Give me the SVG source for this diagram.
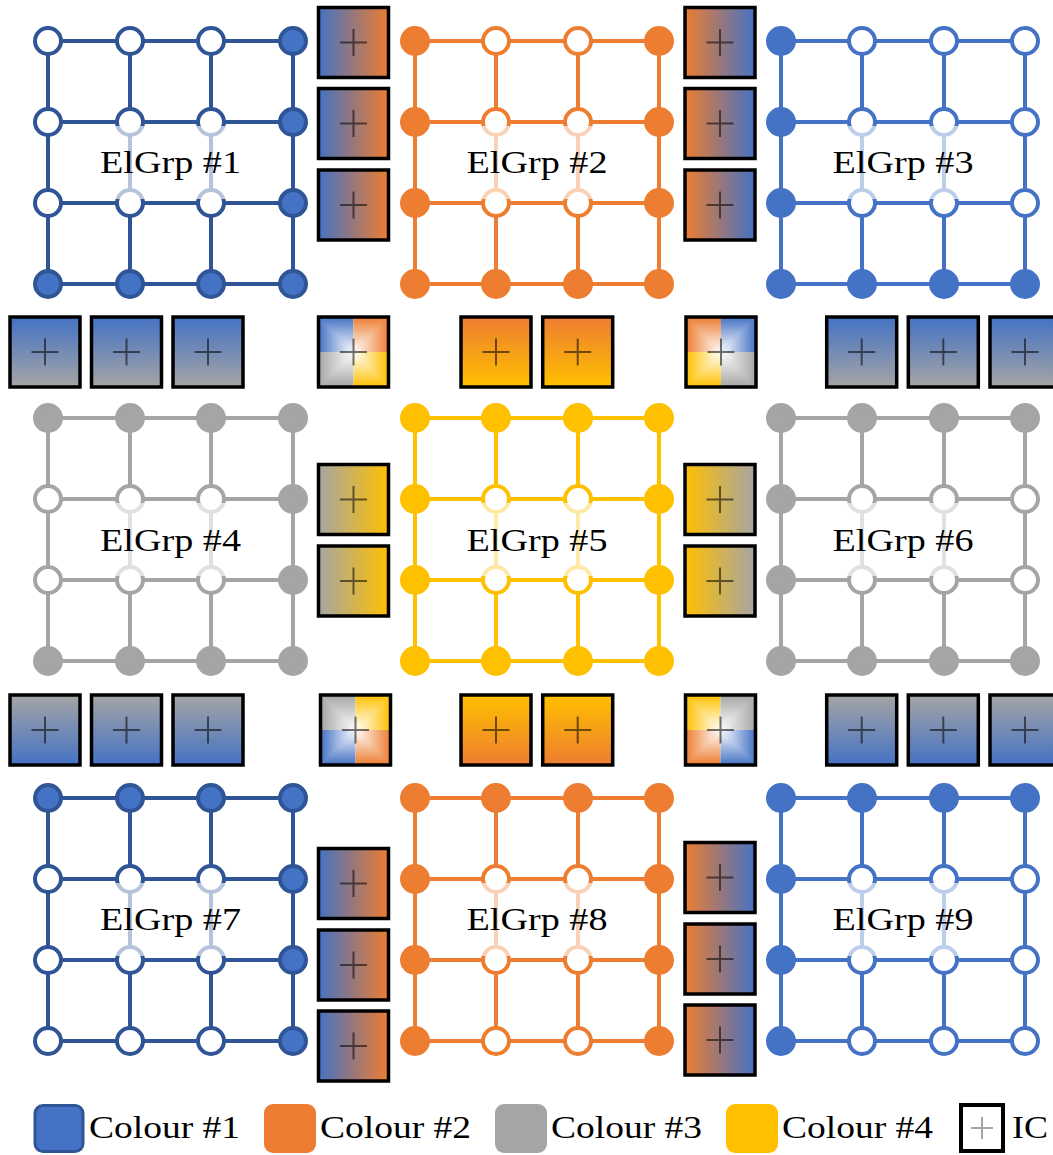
<svg xmlns="http://www.w3.org/2000/svg" width="1053" height="1155" viewBox="0 0 1053 1155">
<defs>
<style>
.ic{stroke:#000;stroke-width:3.5}
.x{stroke:#000;stroke-opacity:.55;stroke-width:2;fill:none}
.lbl{font-family:"Liberation Serif","DejaVu Serif",serif;font-size:32px;text-anchor:middle;fill:#000}
.leg{font-family:"Liberation Serif","DejaVu Serif",serif;font-size:32px;fill:#000}
.fade{fill:#fff;fill-opacity:.65}
.ld{stroke:#2F5597;stroke-width:4;fill:none}
.lb{stroke:#4472C4;stroke-width:4;fill:none}
.lo{stroke:#ED7D31;stroke-width:4;fill:none}
.lg{stroke:#A5A5A5;stroke-width:4;fill:none}
.ly{stroke:#FFC000;stroke-width:4;fill:none}
.wd{fill:#fff;stroke:#2F5597;stroke-width:4}
.fd{fill:#4472C4;stroke:#2F5597;stroke-width:4}
.wb{fill:#fff;stroke:#4472C4;stroke-width:4}
.fb{fill:#4472C4;stroke:#4472C4;stroke-width:4}
.wo{fill:#fff;stroke:#ED7D31;stroke-width:4}
.fo{fill:#ED7D31;stroke:#ED7D31;stroke-width:4}
.wg{fill:#fff;stroke:#A5A5A5;stroke-width:4}
.fg{fill:#A5A5A5;stroke:#A5A5A5;stroke-width:4}
.wy{fill:#fff;stroke:#FFC000;stroke-width:4}
.fy{fill:#FFC000;stroke:#FFC000;stroke-width:4}
</style>
<linearGradient id="lrBO" x1="0" y1="0" x2="1" y2="0"><stop offset="0" stop-color="#4472C4"/><stop offset="1" stop-color="#ED7D31"/></linearGradient>
<linearGradient id="lrOB" x1="0" y1="0" x2="1" y2="0"><stop offset="0" stop-color="#ED7D31"/><stop offset="1" stop-color="#4472C4"/></linearGradient>
<linearGradient id="lrGY" x1="0" y1="0" x2="1" y2="0"><stop offset="0" stop-color="#A5A5A5"/><stop offset="1" stop-color="#FFC000"/></linearGradient>
<linearGradient id="lrYG" x1="0" y1="0" x2="1" y2="0"><stop offset="0" stop-color="#FFC000"/><stop offset="1" stop-color="#A5A5A5"/></linearGradient>
<linearGradient id="tbBG" x1="0" y1="0" x2="0" y2="1"><stop offset="0" stop-color="#4472C4"/><stop offset="1" stop-color="#A5A5A5"/></linearGradient>
<linearGradient id="tbGB" x1="0" y1="0" x2="0" y2="1"><stop offset="0" stop-color="#A5A5A5"/><stop offset="1" stop-color="#4472C4"/></linearGradient>
<linearGradient id="tbOY" x1="0" y1="0" x2="0" y2="1"><stop offset="0" stop-color="#ED7D31"/><stop offset="1" stop-color="#FFC000"/></linearGradient>
<linearGradient id="tbYO" x1="0" y1="0" x2="0" y2="1"><stop offset="0" stop-color="#FFC000"/><stop offset="1" stop-color="#ED7D31"/></linearGradient>
<linearGradient id="wT" x1="0" y1="0" x2="0" y2="1"><stop offset="0" stop-color="#fff" stop-opacity="0"/><stop offset="1" stop-color="#fff" stop-opacity="1"/></linearGradient>
<linearGradient id="wB" x1="0" y1="1" x2="0" y2="0"><stop offset="0" stop-color="#fff" stop-opacity="0"/><stop offset="1" stop-color="#fff" stop-opacity="1"/></linearGradient>
<linearGradient id="wL" x1="0" y1="0" x2="1" y2="0"><stop offset="0" stop-color="#fff" stop-opacity="0"/><stop offset="1" stop-color="#fff" stop-opacity="1"/></linearGradient>
<linearGradient id="wR" x1="1" y1="0" x2="0" y2="0"><stop offset="0" stop-color="#fff" stop-opacity="0"/><stop offset="1" stop-color="#fff" stop-opacity="1"/></linearGradient>
</defs>
<rect width="1053" height="1155" fill="#fff"/>

<g id="connectors">
<path class="ld" d="M48 41H293M48 122H293M48 203H293M48 284H293M48 41V284M130 41V284M211 41V284M293 41V284"/>
<path class="lo" d="M415 41H659M415 122H659M415 203H659M415 284H659M415 41V284M496 41V284M578 41V284M659 41V284"/>
<path class="lb" d="M781 41H1025M781 122H1025M781 203H1025M781 284H1025M781 41V284M862 41V284M944 41V284M1025 41V284"/>
<path class="lg" d="M48 418H293M48 499H293M48 580H293M48 661H293M48 418V661M130 418V661M211 418V661M293 418V661"/>
<path class="ly" d="M415 418H659M415 499H659M415 580H659M415 661H659M415 418V661M496 418V661M578 418V661M659 418V661"/>
<path class="lg" d="M781 418H1025M781 499H1025M781 580H1025M781 661H1025M781 418V661M862 418V661M944 418V661M1025 418V661"/>
<path class="ld" d="M48 798H293M48 879H293M48 960H293M48 1041H293M48 798V1041M130 798V1041M211 798V1041M293 798V1041"/>
<path class="lo" d="M415 798H659M415 879H659M415 960H659M415 1041H659M415 798V1041M496 798V1041M578 798V1041M659 798V1041"/>
<path class="lb" d="M781 798H1025M781 879H1025M781 960H1025M781 1041H1025M781 798V1041M862 798V1041M944 798V1041M1025 798V1041"/>
</g>

<g id="elgrp1">
<circle class="wd" cx="48" cy="41" r="13"/><circle class="wd" cx="130" cy="41" r="13"/><circle class="wd" cx="211" cy="41" r="13"/><circle class="fd" cx="293" cy="41" r="13"/>
<circle class="wd" cx="48" cy="122" r="13"/><circle class="wd" cx="130" cy="122" r="13"/><circle class="wd" cx="211" cy="122" r="13"/><circle class="fd" cx="293" cy="122" r="13"/>
<circle class="wd" cx="48" cy="203" r="13"/><circle class="wd" cx="130" cy="203" r="13"/><circle class="wd" cx="211" cy="203" r="13"/><circle class="fd" cx="293" cy="203" r="13"/>
<circle class="fd" cx="48" cy="284" r="13"/><circle class="fd" cx="130" cy="284" r="13"/><circle class="fd" cx="211" cy="284" r="13"/><circle class="fd" cx="293" cy="284" r="13"/>
<rect class="fade" x="99.5" y="126" width="142" height="73"/>
<text class="lbl" x="170.5" y="172.5" textLength="141" lengthAdjust="spacingAndGlyphs">ElGrp #1</text>
</g>

<g id="elgrp2">
<circle class="fo" cx="415" cy="41" r="13"/><circle class="wo" cx="496" cy="41" r="13"/><circle class="wo" cx="578" cy="41" r="13"/><circle class="fo" cx="659" cy="41" r="13"/>
<circle class="fo" cx="415" cy="122" r="13"/><circle class="wo" cx="496" cy="122" r="13"/><circle class="wo" cx="578" cy="122" r="13"/><circle class="fo" cx="659" cy="122" r="13"/>
<circle class="fo" cx="415" cy="203" r="13"/><circle class="wo" cx="496" cy="203" r="13"/><circle class="wo" cx="578" cy="203" r="13"/><circle class="fo" cx="659" cy="203" r="13"/>
<circle class="fo" cx="415" cy="284" r="13"/><circle class="fo" cx="496" cy="284" r="13"/><circle class="fo" cx="578" cy="284" r="13"/><circle class="fo" cx="659" cy="284" r="13"/>
<rect class="fade" x="466" y="126" width="142" height="73"/>
<text class="lbl" x="537" y="172.5" textLength="141" lengthAdjust="spacingAndGlyphs">ElGrp #2</text>
</g>

<g id="elgrp3">
<circle class="fb" cx="781" cy="41" r="13"/><circle class="wb" cx="862" cy="41" r="13"/><circle class="wb" cx="944" cy="41" r="13"/><circle class="wb" cx="1025" cy="41" r="13"/>
<circle class="fb" cx="781" cy="122" r="13"/><circle class="wb" cx="862" cy="122" r="13"/><circle class="wb" cx="944" cy="122" r="13"/><circle class="wb" cx="1025" cy="122" r="13"/>
<circle class="fb" cx="781" cy="203" r="13"/><circle class="wb" cx="862" cy="203" r="13"/><circle class="wb" cx="944" cy="203" r="13"/><circle class="wb" cx="1025" cy="203" r="13"/>
<circle class="fb" cx="781" cy="284" r="13"/><circle class="fb" cx="862" cy="284" r="13"/><circle class="fb" cx="944" cy="284" r="13"/><circle class="fb" cx="1025" cy="284" r="13"/>
<rect class="fade" x="832" y="126" width="142" height="73"/>
<text class="lbl" x="903" y="172.5" textLength="141" lengthAdjust="spacingAndGlyphs">ElGrp #3</text>
</g>

<g id="elgrp4">
<circle class="fg" cx="48" cy="418" r="13"/><circle class="fg" cx="130" cy="418" r="13"/><circle class="fg" cx="211" cy="418" r="13"/><circle class="fg" cx="293" cy="418" r="13"/>
<circle class="wg" cx="48" cy="499" r="13"/><circle class="wg" cx="130" cy="499" r="13"/><circle class="wg" cx="211" cy="499" r="13"/><circle class="fg" cx="293" cy="499" r="13"/>
<circle class="wg" cx="48" cy="580" r="13"/><circle class="wg" cx="130" cy="580" r="13"/><circle class="wg" cx="211" cy="580" r="13"/><circle class="fg" cx="293" cy="580" r="13"/>
<circle class="fg" cx="48" cy="661" r="13"/><circle class="fg" cx="130" cy="661" r="13"/><circle class="fg" cx="211" cy="661" r="13"/><circle class="fg" cx="293" cy="661" r="13"/>
<rect class="fade" x="99.5" y="503" width="142" height="73"/>
<text class="lbl" x="170.5" y="550.5" textLength="141" lengthAdjust="spacingAndGlyphs">ElGrp #4</text>
</g>

<g id="elgrp5">
<circle class="fy" cx="415" cy="418" r="13"/><circle class="fy" cx="496" cy="418" r="13"/><circle class="fy" cx="578" cy="418" r="13"/><circle class="fy" cx="659" cy="418" r="13"/>
<circle class="fy" cx="415" cy="499" r="13"/><circle class="wy" cx="496" cy="499" r="13"/><circle class="wy" cx="578" cy="499" r="13"/><circle class="fy" cx="659" cy="499" r="13"/>
<circle class="fy" cx="415" cy="580" r="13"/><circle class="wy" cx="496" cy="580" r="13"/><circle class="wy" cx="578" cy="580" r="13"/><circle class="fy" cx="659" cy="580" r="13"/>
<circle class="fy" cx="415" cy="661" r="13"/><circle class="fy" cx="496" cy="661" r="13"/><circle class="fy" cx="578" cy="661" r="13"/><circle class="fy" cx="659" cy="661" r="13"/>
<rect class="fade" x="466" y="503" width="142" height="73"/>
<text class="lbl" x="537" y="550.5" textLength="141" lengthAdjust="spacingAndGlyphs">ElGrp #5</text>
</g>

<g id="elgrp6">
<circle class="fg" cx="781" cy="418" r="13"/><circle class="fg" cx="862" cy="418" r="13"/><circle class="fg" cx="944" cy="418" r="13"/><circle class="fg" cx="1025" cy="418" r="13"/>
<circle class="fg" cx="781" cy="499" r="13"/><circle class="wg" cx="862" cy="499" r="13"/><circle class="wg" cx="944" cy="499" r="13"/><circle class="wg" cx="1025" cy="499" r="13"/>
<circle class="fg" cx="781" cy="580" r="13"/><circle class="wg" cx="862" cy="580" r="13"/><circle class="wg" cx="944" cy="580" r="13"/><circle class="wg" cx="1025" cy="580" r="13"/>
<circle class="fg" cx="781" cy="661" r="13"/><circle class="fg" cx="862" cy="661" r="13"/><circle class="fg" cx="944" cy="661" r="13"/><circle class="fg" cx="1025" cy="661" r="13"/>
<rect class="fade" x="832" y="503" width="142" height="73"/>
<text class="lbl" x="903" y="550.5" textLength="141" lengthAdjust="spacingAndGlyphs">ElGrp #6</text>
</g>

<g id="elgrp7">
<circle class="fd" cx="48" cy="798" r="13"/><circle class="fd" cx="130" cy="798" r="13"/><circle class="fd" cx="211" cy="798" r="13"/><circle class="fd" cx="293" cy="798" r="13"/>
<circle class="wd" cx="48" cy="879" r="13"/><circle class="wd" cx="130" cy="879" r="13"/><circle class="wd" cx="211" cy="879" r="13"/><circle class="fd" cx="293" cy="879" r="13"/>
<circle class="wd" cx="48" cy="960" r="13"/><circle class="wd" cx="130" cy="960" r="13"/><circle class="wd" cx="211" cy="960" r="13"/><circle class="fd" cx="293" cy="960" r="13"/>
<circle class="wd" cx="48" cy="1041" r="13"/><circle class="wd" cx="130" cy="1041" r="13"/><circle class="wd" cx="211" cy="1041" r="13"/><circle class="fd" cx="293" cy="1041" r="13"/>
<rect class="fade" x="99.5" y="883" width="142" height="73"/>
<text class="lbl" x="170.5" y="930" textLength="141" lengthAdjust="spacingAndGlyphs">ElGrp #7</text>
</g>

<g id="elgrp8">
<circle class="fo" cx="415" cy="798" r="13"/><circle class="fo" cx="496" cy="798" r="13"/><circle class="fo" cx="578" cy="798" r="13"/><circle class="fo" cx="659" cy="798" r="13"/>
<circle class="fo" cx="415" cy="879" r="13"/><circle class="wo" cx="496" cy="879" r="13"/><circle class="wo" cx="578" cy="879" r="13"/><circle class="fo" cx="659" cy="879" r="13"/>
<circle class="fo" cx="415" cy="960" r="13"/><circle class="wo" cx="496" cy="960" r="13"/><circle class="wo" cx="578" cy="960" r="13"/><circle class="fo" cx="659" cy="960" r="13"/>
<circle class="fo" cx="415" cy="1041" r="13"/><circle class="wo" cx="496" cy="1041" r="13"/><circle class="wo" cx="578" cy="1041" r="13"/><circle class="fo" cx="659" cy="1041" r="13"/>
<rect class="fade" x="466" y="883" width="142" height="73"/>
<text class="lbl" x="537" y="930" textLength="141" lengthAdjust="spacingAndGlyphs">ElGrp #8</text>
</g>

<g id="elgrp9">
<circle class="fb" cx="781" cy="798" r="13"/><circle class="fb" cx="862" cy="798" r="13"/><circle class="fb" cx="944" cy="798" r="13"/><circle class="fb" cx="1025" cy="798" r="13"/>
<circle class="fb" cx="781" cy="879" r="13"/><circle class="wb" cx="862" cy="879" r="13"/><circle class="wb" cx="944" cy="879" r="13"/><circle class="wb" cx="1025" cy="879" r="13"/>
<circle class="fb" cx="781" cy="960" r="13"/><circle class="wb" cx="862" cy="960" r="13"/><circle class="wb" cx="944" cy="960" r="13"/><circle class="wb" cx="1025" cy="960" r="13"/>
<circle class="fb" cx="781" cy="1041" r="13"/><circle class="wb" cx="862" cy="1041" r="13"/><circle class="wb" cx="944" cy="1041" r="13"/><circle class="wb" cx="1025" cy="1041" r="13"/>
<rect class="fade" x="832" y="883" width="142" height="73"/>
<text class="lbl" x="903" y="930" textLength="141" lengthAdjust="spacingAndGlyphs">ElGrp #9</text>
</g>

<!-- vertical IC columns -->
<g id="ic-v12-1"><rect class="ic" x="318.5" y="7.5" width="70" height="70" fill="url(#lrBO)"/><path class="x" d="M340 42.5h27M353.5 29v27"/></g>
<g id="ic-v12-2"><rect class="ic" x="318.5" y="88.5" width="70" height="70" fill="url(#lrBO)"/><path class="x" d="M340 123.5h27M353.5 110v27"/></g>
<g id="ic-v12-3"><rect class="ic" x="318.5" y="170" width="70" height="70" fill="url(#lrBO)"/><path class="x" d="M340 205h27M353.5 191.5v27"/></g>
<g id="ic-v23-1"><rect class="ic" x="685" y="7.5" width="70" height="70" fill="url(#lrOB)"/><path class="x" d="M706.5 42.5h27M720 29v27"/></g>
<g id="ic-v23-2"><rect class="ic" x="685" y="88.5" width="70" height="70" fill="url(#lrOB)"/><path class="x" d="M706.5 123.5h27M720 110v27"/></g>
<g id="ic-v23-3"><rect class="ic" x="685" y="170" width="70" height="70" fill="url(#lrOB)"/><path class="x" d="M706.5 205h27M720 191.5v27"/></g>
<g id="ic-v45-1"><rect class="ic" x="318.5" y="464.5" width="70" height="70" fill="url(#lrGY)"/><path class="x" d="M340 499.5h27M353.5 486v27"/></g>
<g id="ic-v45-2"><rect class="ic" x="318.5" y="546" width="70" height="70" fill="url(#lrGY)"/><path class="x" d="M340 581h27M353.5 567.5v27"/></g>
<g id="ic-v56-1"><rect class="ic" x="685" y="464.5" width="70" height="70" fill="url(#lrYG)"/><path class="x" d="M706.5 499.5h27M720 486v27"/></g>
<g id="ic-v56-2"><rect class="ic" x="685" y="546" width="70" height="70" fill="url(#lrYG)"/><path class="x" d="M706.5 581h27M720 567.5v27"/></g>
<g id="ic-v78-1"><rect class="ic" x="318.5" y="848.5" width="70" height="70" fill="url(#lrBO)"/><path class="x" d="M340 883.5h27M353.5 870v27"/></g>
<g id="ic-v78-2"><rect class="ic" x="318.5" y="930" width="70" height="70" fill="url(#lrBO)"/><path class="x" d="M340 965h27M353.5 951.5v27"/></g>
<g id="ic-v78-3"><rect class="ic" x="318.5" y="1011" width="70" height="70" fill="url(#lrBO)"/><path class="x" d="M340 1046h27M353.5 1032.5v27"/></g>
<g id="ic-v89-1"><rect class="ic" x="685" y="842.5" width="70" height="70" fill="url(#lrOB)"/><path class="x" d="M706.5 877.5h27M720 864v27"/></g>
<g id="ic-v89-2"><rect class="ic" x="685" y="924" width="70" height="70" fill="url(#lrOB)"/><path class="x" d="M706.5 959h27M720 945.5v27"/></g>
<g id="ic-v89-3"><rect class="ic" x="685" y="1005" width="70" height="70" fill="url(#lrOB)"/><path class="x" d="M706.5 1040h27M720 1026.5v27"/></g>

<!-- horizontal IC rows -->
<g id="ic-h14-1"><rect class="ic" x="10" y="317" width="70" height="70" fill="url(#tbBG)"/><path class="x" d="M31.5 352h27M45 338.5v27"/></g>
<g id="ic-h14-2"><rect class="ic" x="91.5" y="317" width="70" height="70" fill="url(#tbBG)"/><path class="x" d="M113 352h27M126.5 338.5v27"/></g>
<g id="ic-h14-3"><rect class="ic" x="173" y="317" width="70" height="70" fill="url(#tbBG)"/><path class="x" d="M194.5 352h27M208 338.5v27"/></g>
<g id="ic-h25-1"><rect class="ic" x="461" y="317" width="70" height="70" fill="url(#tbOY)"/><path class="x" d="M482.5 352h27M496 338.5v27"/></g>
<g id="ic-h25-2"><rect class="ic" x="542.7" y="317" width="70" height="70" fill="url(#tbOY)"/><path class="x" d="M564.2 352h27M577.7 338.5v27"/></g>
<g id="ic-h36-1"><rect class="ic" x="826.7" y="317" width="70" height="70" fill="url(#tbBG)"/><path class="x" d="M848.2 352h27M861.7 338.5v27"/></g>
<g id="ic-h36-2"><rect class="ic" x="908.3" y="317" width="70" height="70" fill="url(#tbBG)"/><path class="x" d="M929.8 352h27M943.3 338.5v27"/></g>
<g id="ic-h36-3"><rect class="ic" x="990" y="317" width="70" height="70" fill="url(#tbBG)"/><path class="x" d="M1011.5 352h27M1025 338.5v27"/></g>
<g id="ic-h47-1"><rect class="ic" x="10" y="695" width="70" height="70" fill="url(#tbGB)"/><path class="x" d="M31.5 730h27M45 716.5v27"/></g>
<g id="ic-h47-2"><rect class="ic" x="91.5" y="695" width="70" height="70" fill="url(#tbGB)"/><path class="x" d="M113 730h27M126.5 716.5v27"/></g>
<g id="ic-h47-3"><rect class="ic" x="173" y="695" width="70" height="70" fill="url(#tbGB)"/><path class="x" d="M194.5 730h27M208 716.5v27"/></g>
<g id="ic-h58-1"><rect class="ic" x="461" y="695" width="70" height="70" fill="url(#tbYO)"/><path class="x" d="M482.5 730h27M496 716.5v27"/></g>
<g id="ic-h58-2"><rect class="ic" x="542.7" y="695" width="70" height="70" fill="url(#tbYO)"/><path class="x" d="M564.2 730h27M577.7 716.5v27"/></g>
<g id="ic-h69-1"><rect class="ic" x="826.7" y="695" width="70" height="70" fill="url(#tbGB)"/><path class="x" d="M848.2 730h27M861.7 716.5v27"/></g>
<g id="ic-h69-2"><rect class="ic" x="908.3" y="695" width="70" height="70" fill="url(#tbGB)"/><path class="x" d="M929.8 730h27M943.3 716.5v27"/></g>
<g id="ic-h69-3"><rect class="ic" x="990" y="695" width="70" height="70" fill="url(#tbGB)"/><path class="x" d="M1011.5 730h27M1025 716.5v27"/></g>

<!-- corner ICs -->
<g id="ic-c1245">
<rect x="318.5" y="317" width="35" height="35" fill="#4472C4"/><rect x="353.5" y="317" width="35" height="35" fill="#ED7D31"/>
<rect x="318.5" y="352" width="35" height="35" fill="#A5A5A5"/><rect x="353.5" y="352" width="35" height="35" fill="#FFC000"/>
<polygon points="318.5,317 388.5,317 353.5,352" fill="url(#wT)"/><polygon points="318.5,387 388.5,387 353.5,352" fill="url(#wB)"/>
<polygon points="318.5,317 318.5,387 353.5,352" fill="url(#wL)"/><polygon points="388.5,317 388.5,387 353.5,352" fill="url(#wR)"/>
<rect class="ic" x="318.5" y="317" width="70" height="70" fill="none"/><path class="x" d="M340 352h27M353.5 338.5v27"/>
</g>
<g id="ic-c2356">
<rect x="686" y="317" width="35" height="35" fill="#ED7D31"/><rect x="721" y="317" width="35" height="35" fill="#4472C4"/>
<rect x="686" y="352" width="35" height="35" fill="#FFC000"/><rect x="721" y="352" width="35" height="35" fill="#A5A5A5"/>
<polygon points="686,317 756,317 721,352" fill="url(#wT)"/><polygon points="686,387 756,387 721,352" fill="url(#wB)"/>
<polygon points="686,317 686,387 721,352" fill="url(#wL)"/><polygon points="756,317 756,387 721,352" fill="url(#wR)"/>
<rect class="ic" x="686" y="317" width="70" height="70" fill="none"/><path class="x" d="M707.5 352h27M721 338.5v27"/>
</g>
<g id="ic-c4578">
<rect x="320.5" y="695" width="35" height="35" fill="#A5A5A5"/><rect x="355.5" y="695" width="35" height="35" fill="#FFC000"/>
<rect x="320.5" y="730" width="35" height="35" fill="#4472C4"/><rect x="355.5" y="730" width="35" height="35" fill="#ED7D31"/>
<polygon points="320.5,695 390.5,695 355.5,730" fill="url(#wT)"/><polygon points="320.5,765 390.5,765 355.5,730" fill="url(#wB)"/>
<polygon points="320.5,695 320.5,765 355.5,730" fill="url(#wL)"/><polygon points="390.5,695 390.5,765 355.5,730" fill="url(#wR)"/>
<rect class="ic" x="320.5" y="695" width="70" height="70" fill="none"/><path class="x" d="M342 730h27M355.5 716.5v27"/>
</g>
<g id="ic-c5689">
<rect x="685.5" y="695" width="35" height="35" fill="#FFC000"/><rect x="720.5" y="695" width="35" height="35" fill="#A5A5A5"/>
<rect x="685.5" y="730" width="35" height="35" fill="#ED7D31"/><rect x="720.5" y="730" width="35" height="35" fill="#4472C4"/>
<polygon points="685.5,695 755.5,695 720.5,730" fill="url(#wT)"/><polygon points="685.5,765 755.5,765 720.5,730" fill="url(#wB)"/>
<polygon points="685.5,695 685.5,765 720.5,730" fill="url(#wL)"/><polygon points="755.5,695 755.5,765 720.5,730" fill="url(#wR)"/>
<rect class="ic" x="685.5" y="695" width="70" height="70" fill="none"/><path class="x" d="M707 730h27M720.5 716.5v27"/>
</g>

<!-- legend -->
<g id="legend">
<rect x="35" y="1105.5" width="48" height="46" rx="8" fill="#4472C4" stroke="#2F5597" stroke-width="3"/>
<text class="leg" x="89" y="1138" textLength="151" lengthAdjust="spacingAndGlyphs">Colour #1</text>
<rect x="264" y="1104" width="52" height="49" rx="9" fill="#ED7D31"/>
<text class="leg" x="320" y="1138" textLength="151" lengthAdjust="spacingAndGlyphs">Colour #2</text>
<rect x="495" y="1104" width="52" height="49" rx="9" fill="#A5A5A5"/>
<text class="leg" x="551" y="1138" textLength="151" lengthAdjust="spacingAndGlyphs">Colour #3</text>
<rect x="726" y="1104" width="52" height="49" rx="9" fill="#FFC000"/>
<text class="leg" x="782" y="1138" textLength="151" lengthAdjust="spacingAndGlyphs">Colour #4</text>
<rect x="961" y="1105" width="42" height="46" fill="#fff" stroke="#000" stroke-width="4"/>
<path d="M971 1128h22M982 1117v22" stroke="#A5A5A5" stroke-width="2" fill="none"/>
<text class="leg" x="1012" y="1138" textLength="36" lengthAdjust="spacingAndGlyphs">IC</text>
</g>
</svg>
